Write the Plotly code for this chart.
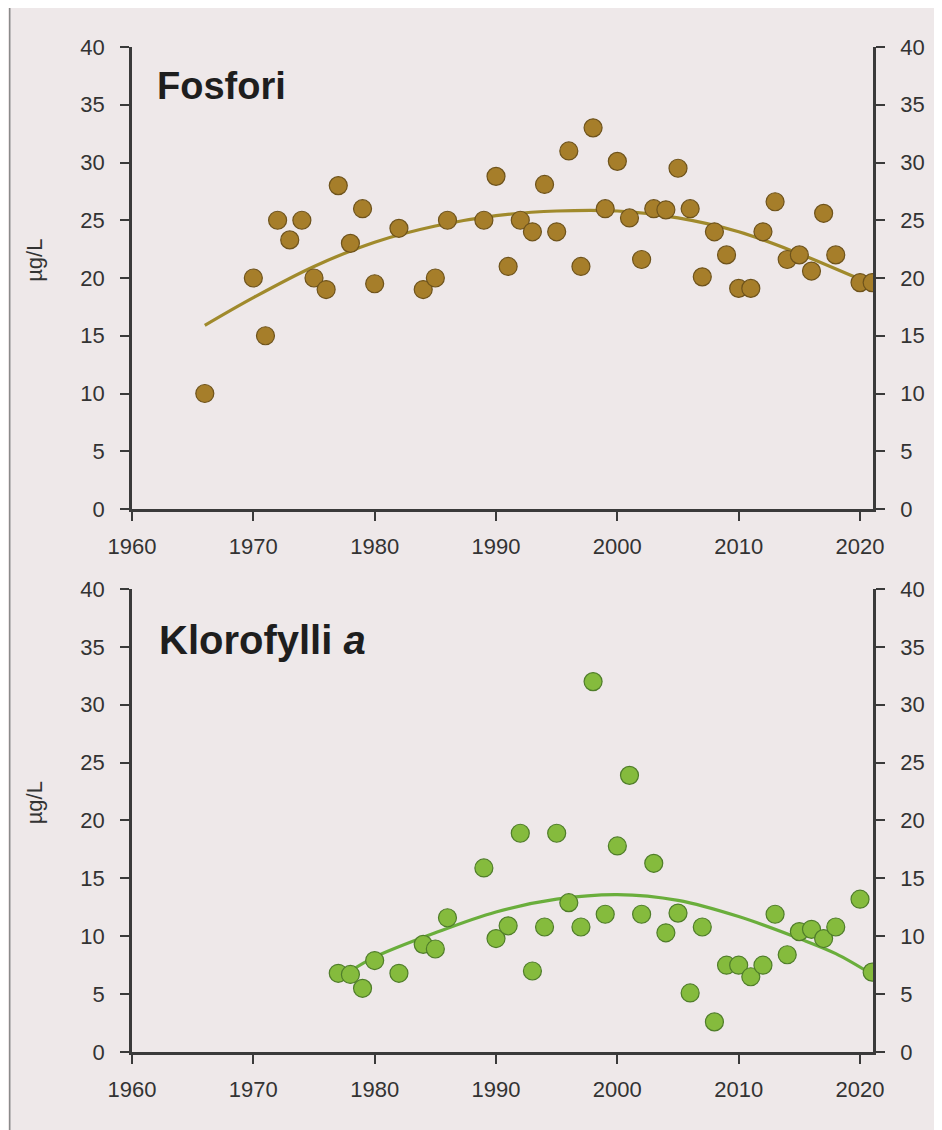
import plotly.graph_objects as go

# ---- data ----
fos_years = [1966, 1970, 1971, 1972, 1973, 1974, 1975, 1976, 1977, 1978,
             1979, 1980, 1982, 1984, 1985, 1986, 1989, 1990, 1991, 1992,
             1993, 1994, 1995, 1996, 1997, 1998, 1999, 2000, 2001, 2002,
             2003, 2004, 2005, 2006, 2007, 2008, 2009, 2010, 2011, 2012,
             2013, 2014, 2015, 2016, 2017, 2018, 2020, 2021]
fos_values = [10, 20, 15, 25, 23.3, 25, 20, 19, 28, 23,
              26, 19.5, 24.3, 19, 20, 25, 25, 28.8, 21, 25,
              24, 28.1, 24, 31, 21, 33, 26, 30.1, 25.2, 21.6,
              26, 25.9, 29.5, 26, 20.1, 24, 22, 19.1, 19.1, 24,
              26.6, 21.6, 22, 20.6, 25.6, 22, 19.6, 19.6]
fos_trend_years = [1966, 1970, 1975, 1980, 1985, 1990, 1995, 2000, 2005, 2010, 2015, 2020, 2021]
fos_trend_values = [15.9, 18.3, 21.0, 23.1, 24.5, 25.4, 25.8, 25.8, 25.2, 24.0, 22.1, 19.9, 19.5]

chl_years = [1977, 1978, 1979, 1980, 1982, 1984, 1985, 1986, 1989, 1990,
             1991, 1992, 1993, 1994, 1995, 1996, 1997, 1998, 1999, 2000,
             2001, 2002, 2003, 2004, 2005, 2006, 2007, 2008, 2009, 2010,
             2011, 2012, 2013, 2014, 2015, 2016, 2017, 2018, 2020, 2021]
chl_values = [6.8, 6.7, 5.5, 7.9, 6.8, 9.3, 8.9, 11.6, 15.9, 9.8,
              10.9, 18.9, 7.0, 10.8, 18.9, 12.9, 10.8, 32.0, 11.9, 17.8,
              23.9, 11.9, 16.3, 10.3, 12.0, 5.1, 10.8, 2.6, 7.5, 7.5,
              6.5, 7.5, 11.9, 8.4, 10.4, 10.6, 9.8, 10.8, 13.2, 6.9]
chl_trend_years = [1978, 1980, 1985, 1990, 1995, 2000, 2005, 2010, 2015, 2018, 2021]
chl_trend_values = [7.0, 8.2, 10.3, 12.1, 13.2, 13.6, 13.1, 11.7, 9.8, 8.5, 6.7]

x_ticks = [1960, 1970, 1980, 1990, 2000, 2010, 2020]
y_ticks = [0, 5, 10, 15, 20, 25, 30, 35, 40]
titles = ["Fosfori", "Klorofylli <i>a</i>"]
unit_label = "µg/L"

# ---- styling ----
FONT = "Liberation Sans, Arial, sans-serif"
BG = "#eee8e9"
AX = "#3a3a3a"
TXT = "#333333"
FOS_DOT = "#a67e2a"
FOS_EDGE = "#6e531c"
FOS_LINE = "#a08a2c"
CHL_DOT = "#85bb3d"
CHL_EDGE = "#4f7d2a"
CHL_LINE = "#6aae3c"

fig = go.Figure()

fig.add_trace(go.Scatter(x=fos_trend_years, y=fos_trend_values, mode="lines",
                         line=dict(color=FOS_LINE, width=3.2, shape="spline"),
                         xaxis="x", yaxis="y", hoverinfo="skip", showlegend=False))
fig.add_trace(go.Scatter(x=fos_years, y=fos_values, mode="markers",
                         marker=dict(size=18, color=FOS_DOT, line=dict(color=FOS_EDGE, width=1.2)),
                         xaxis="x", yaxis="y", showlegend=False))
fig.add_trace(go.Scatter(x=chl_trend_years, y=chl_trend_values, mode="lines",
                         line=dict(color=CHL_LINE, width=3.2, shape="spline"),
                         xaxis="x2", yaxis="y2", hoverinfo="skip", showlegend=False))
fig.add_trace(go.Scatter(x=chl_years, y=chl_values, mode="markers",
                         marker=dict(size=18, color=CHL_DOT, line=dict(color=CHL_EDGE, width=1.2)),
                         xaxis="x2", yaxis="y2", showlegend=False))
# invisible traces so right-hand axes render
fig.add_trace(go.Scatter(x=[1960], y=[0], mode="markers", marker=dict(opacity=0),
                         xaxis="x", yaxis="y3", hoverinfo="skip", showlegend=False))
fig.add_trace(go.Scatter(x=[1960], y=[0], mode="markers", marker=dict(opacity=0),
                         xaxis="x2", yaxis="y4", hoverinfo="skip", showlegend=False))

xcommon = dict(range=[1960, 2021.07], tickvals=x_ticks, ticks="outside", ticklen=9,
               tickwidth=2.2, tickcolor=AX, showline=True, linewidth=2.5, linecolor=AX,
               showgrid=False, zeroline=False, tickfont=dict(size=22, color=TXT, family=FONT),
               ticklabelstandoff=7)
ycommon = dict(range=[0, 40], tickvals=y_ticks, ticks="outside", ticklen=9,
               tickwidth=2.2, tickcolor=AX, showline=True, linewidth=2.5, linecolor=AX,
               showgrid=False, zeroline=False, tickfont=dict(size=22, color=TXT, family=FONT),
               ticklabelstandoff=11)

top_dom = [0.5403, 1.0]
bot_dom = [0.0, 0.4607]

fig.update_layout(
    width=942, height=1130,
    margin=dict(l=124, r=77, t=39, b=86),
    paper_bgcolor=BG, plot_bgcolor=BG,
    font=dict(family=FONT, color=TXT),
    xaxis=dict(**xcommon, domain=[0, 1], anchor="y"),
    yaxis=dict(**ycommon, domain=top_dom, anchor="x"),
    yaxis3=dict(**ycommon, overlaying="y", side="right", anchor="x"),
    xaxis2=dict(**xcommon, domain=[0, 1], anchor="y2"),
    yaxis2=dict(**ycommon, domain=bot_dom, anchor="x2"),
    yaxis4=dict(**ycommon, overlaying="y2", side="right", anchor="x2"),
    showlegend=False,
)

# panel titles
fig.add_annotation(x=1961.9, y=36.6, xref="x", yref="y", text="<b>" + titles[0] + "</b>",
                   showarrow=False, xanchor="left", yanchor="middle",
                   font=dict(size=38, color="#1e1e1e", family=FONT))
fig.add_annotation(x=1962.1, y=35.6, xref="x2", yref="y2", text="<b>" + titles[1] + "</b>",
                   showarrow=False, xanchor="left", yanchor="middle",
                   font=dict(size=40, color="#1e1e1e", family=FONT))
# unit labels
for yref in ["y", "y2"]:
    fig.add_annotation(x=-0.132, y=21.5, xref="paper", yref=yref, text=unit_label,
                       textangle=-90, showarrow=False, xanchor="center", yanchor="middle",
                       font=dict(size=22, color=TXT, family=FONT))

# page edge line from the scan
fig.add_shape(type="line", xref="paper", yref="paper", x0=-0.165, x1=-0.165, y0=-0.09, y1=1.05,
              line=dict(color="#8a8a8a", width=1.5))

fig.write_html("out.html")
